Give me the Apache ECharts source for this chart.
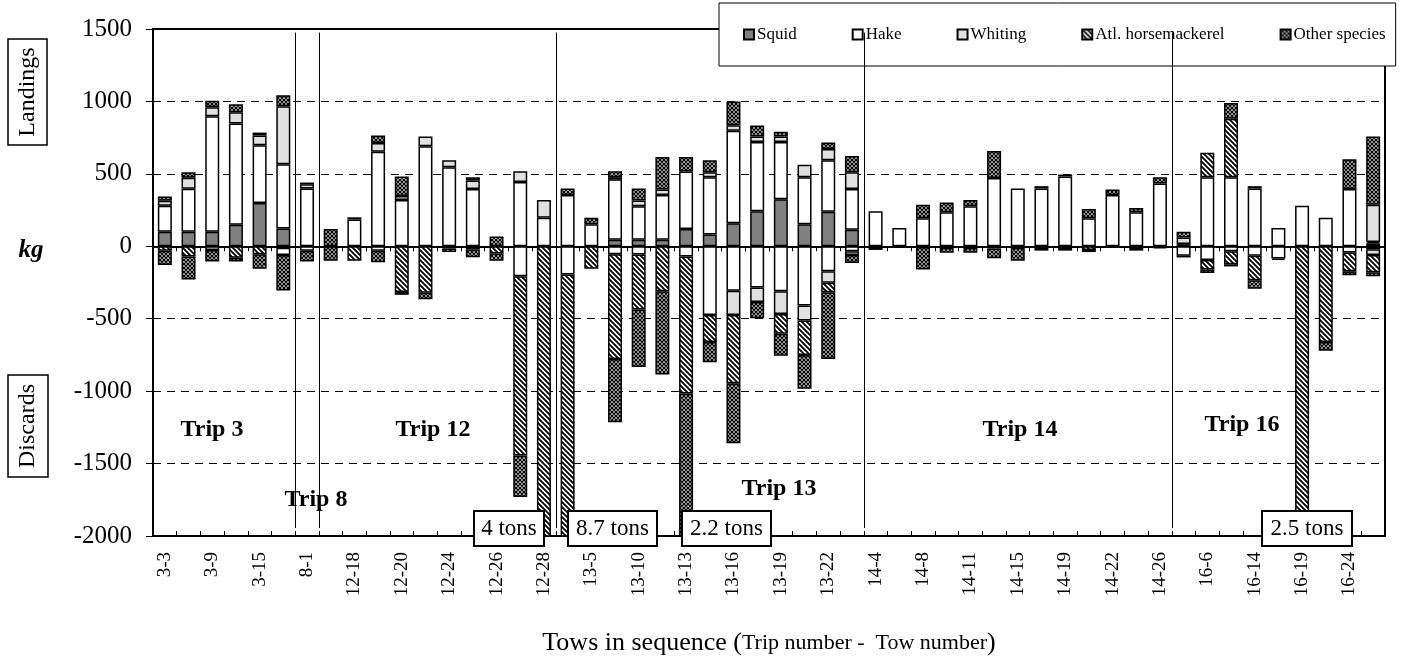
<!DOCTYPE html>
<html>
<head>
<meta charset="utf-8">
<script src="https://cdn.jsdelivr.net/npm/echarts@6/dist/echarts.min.js"></script>
<style>
  html, body { margin: 0; padding: 0; background: #fff; }
  #chart { width: 1427px; height: 661px; }
</style>
</head>
<body>
<div id="chart"></div>
<script>
// Tows in sequence: "trip-tow"
const tows = [
  '3-3','3-6','3-9','3-12','3-15','3-18',
  '8-1',
  '12-17','12-18','12-19','12-20','12-22','12-24','12-25','12-26','12-27','12-28',
  '13-4','13-5','13-8','13-10','13-12','13-13','13-15','13-16','13-18','13-19','13-21','13-22','13-23',
  '14-4','14-6','14-8','14-10','14-11','14-13','14-15','14-17','14-19','14-20','14-22','14-24','14-26',
  '16-5','16-6','16-10','16-14','16-17','16-19','16-21','16-24','16-26'
];

// Landings per tow (kg)
const landSquid = [100,100,100,148,298,123, 0, 0,0,0,0,0,0,0,0,0,0,
  0,0,45,45,45,119,81,159,242,325,152,238,114,
  0,0,0,0,0,0,0,0,0,0,0,0,0,
  0,0,0,0,0,0,0,0,20];
const landHake = [180,297,797,699,399,444, 399, 0,185,652,320,690,545,395,0,444,197,
  354,152,417,231,309,397,396,639,478,395,325,356,281,
  242,126,193,235,276,471,399,399,482,193,354,235,433,
  15,477,477,399,126,280,197,395,10];
const landWhiting = [35,76,63,79,68,399, 29, 0,0,61,27,68,49,60,0,74,123,
  0,0,15,40,38,0,34,38,38,38,86,78,116,
  0,0,0,0,0,0,0,0,0,0,0,0,0,
  45,0,0,0,0,0,0,0,257];
const landHorse = [0,0,0,0,0,0, 0, 0,0,0,0,0,0,0,0,0,0,
  0,0,0,0,0,0,0,0,0,0,0,0,0,
  0,0,0,0,0,0,0,0,0,0,0,0,0,
  0,169,404,0,0,0,0,0,0];
const landOther = [28,38,44,54,20,77, 12, 119,15,52,135,0,0,22,67,0,0,
  45,45,41,83,224,100,83,164,76,33,0,45,112,
  0,0,94,68,44,186,0,16,13,65,38,30,44,
  40,0,108,16,0,0,0,206,471];

// Discards per tow (kg, negative)
const discSquid = [0,0,0,0,0,-10, 0, 0,0,0,0,0,0,0,0,0,0,
  0,0,0,0,0,0,0,0,0,0,0,0,0,
  0,0,0,0,0,0,0,0,0,0,0,0,0,
  0,0,0,0,0,0,0,0,0];
const discHake = [0,0,-25,0,0,-50, -30, 0,0,-30,0,0,-15,-20,0,-206,0,
  -195,0,-55,-56,0,-70,-475,-307,-285,-311,-408,-172,-35,
  -10,-10,-5,-10,-10,-15,-10,-10,-10,0,-5,-10,-5,
  -65,-94,-34,-65,-85,0,0,-43,-20];
const discWhiting = [0,0,0,0,0,0, 0, 0,0,0,0,0,0,0,0,0,0,
  0,0,0,0,0,0,0,-168,-100,-157,-105,-79,-25,
  0,0,0,0,0,0,0,0,0,0,0,0,0,
  0,0,0,0,0,0,0,0,-40];
const discHorse = [-30,-70,0,-80,-55,0, 0, 0,-100,0,-315,-320,-25,0,-50,-1239,-4000,
  -8505,-155,-723,-381,-311,-947,-186,-470,0,-135,-238,-67,0,
  0,0,0,0,0,0,0,0,0,-25,0,0,0,
  0,-67,-90,-170,0,-2500,-661,-129,-120];
const discOther = [-100,-160,-80,-25,-100,-245, -75, -100,0,-80,-20,-45,0,-55,-50,-285,0,
  0,0,-437,-397,-574,-1183,-139,-415,-112,-152,-233,-460,-55,
  -15,0,-156,-35,-35,-68,-90,-20,-20,-15,0,-20,-10,
  -12,-23,-15,-58,-10,0,-61,-28,-26];

// y-axis ticks (kg)
const yTicks = { min: -2000, max: 1500, step: 500 };

// Very large discard bars and their totals
const bigDiscards = [
  { tow: '12-28', text: '4 tons' },
  { tow: '13-4',  text: '8.7 tons' },
  { tow: '13-13', text: '2.2 tons' },
  { tow: '16-19', text: '2.5 tons' }
];

const trips = ['Trip 3', 'Trip 8', 'Trip 12', 'Trip 13', 'Trip 14', 'Trip 16'];

const SERIF = "'Liberation Serif', 'Times New Roman', serif";

// --- fill patterns -------------------------------------------------------
function hatchPattern() {
  const n = 5;
  const c = document.createElement('canvas');
  c.width = n; c.height = n;
  const g = c.getContext('2d');
  g.fillStyle = '#fff'; g.fillRect(0, 0, n, n);
  g.strokeStyle = '#000'; g.lineWidth = 1.8;
  g.beginPath();
  g.moveTo(-1, -1); g.lineTo(n + 1, n + 1);
  g.moveTo(n - 1, -1); g.lineTo(n + 1, 1);
  g.moveTo(-1, n - 1); g.lineTo(1, n + 1);
  g.stroke();
  return { image: c, repeat: 'repeat' };
}
function crossPattern() {
  const c = document.createElement('canvas');
  c.width = 4; c.height = 4;
  const g = c.getContext('2d');
  g.fillStyle = '#fff'; g.fillRect(0, 0, 4, 4);
  g.strokeStyle = '#000'; g.lineWidth = 1.35;
  g.beginPath();
  g.moveTo(-1, -1); g.lineTo(5, 5);
  g.moveTo(3, -1); g.lineTo(5, 1);
  g.moveTo(-1, 3); g.lineTo(1, 5);
  g.moveTo(-1, 5); g.lineTo(5, -1);
  g.moveTo(-1, 1); g.lineTo(1, -1);
  g.moveTo(3, 5); g.lineTo(5, 3);
  g.stroke();
  return { image: c, repeat: 'repeat' };
}

const species = [
  { name: 'Squid',               fill: '#808080',      land: landSquid,   disc: discSquid },
  { name: 'Hake',                fill: '#ffffff',      land: landHake,    disc: discHake },
  { name: 'Whiting',             fill: '#e0e0e0',      land: landWhiting, disc: discWhiting },
  { name: 'Atl. horsemackerel',  fill: hatchPattern(), land: landHorse,   disc: discHorse },
  { name: 'Other species',       fill: crossPattern(), land: landOther,   disc: discOther }
];

function barSeries(sp, values) {
  return {
    name: sp.name,
    type: 'bar',
    stack: 'kg',
    stackStrategy: 'samesign',
    xAxisIndex: 0,
    yAxisIndex: 0,
    barWidth: 14,
    data: values.map(v => (v === 0 ? '-' : v)),
    itemStyle: { color: sp.fill, borderColor: '#000', borderWidth: 1.5 },
    emphasis: { disabled: true },
    silent: true
  };
}

const series = [];
species.forEach(sp => series.push(barSeries(sp, sp.land)));
species.forEach(sp => series.push(barSeries(sp, sp.disc)));

// vertical separators between trips, at the category boundaries
const tripOf = t => t.split('-')[0];
const breaks = [];
for (let i = 1; i < tows.length; i++) {
  if (tripOf(tows[i]) !== tripOf(tows[i - 1])) breaks.push(i);
}
series.push({
  type: 'line',
  xAxisIndex: 3,
  yAxisIndex: 0,
  data: [],
  silent: true,
  markLine: {
    silent: true,
    symbol: 'none',
    label: { show: false },
    lineStyle: { color: '#000', width: 1, type: 'solid' },
    data: breaks.map(b => [{ coord: [b, 1475] }, { coord: [b, -1945] }])
  }
});

const catAxisBase = {
  type: 'category',
  data: tows,
  boundaryGap: true,
  position: 'bottom',
  splitLine: { show: false }
};

const chart = echarts.init(document.getElementById('chart'), null, { renderer: 'canvas' });

const option = {
  animation: false,
  backgroundColor: '#fff',
  textStyle: { fontFamily: SERIF, color: '#000' },
  grid: {
    left: 153, right: 42, top: 29, bottom: 114,
    show: true, borderColor: '#000', borderWidth: 2, backgroundColor: 'transparent'
  },
  legend: {
    data: species.map(s => ({ name: s.name, icon: 'rect' })),
    selectedMode: false,
    left: 719, top: 3,
    orient: 'horizontal',
    padding: [23, 10, 23, 24],
    itemGap: 55,
    itemWidth: 10, itemHeight: 10,
    backgroundColor: '#fff',
    borderColor: '#000', borderWidth: 1,
    textStyle: { fontFamily: SERIF, fontSize: 17, color: '#000', padding: [0, 0, 0, -2] }
  },
  xAxis: [
    Object.assign({}, catAxisBase, {
      axisLine: { show: false, onZero: false },
      axisTick: { show: false },
      axisLabel: {
        interval: 1, rotate: 90, margin: 16,
        fontFamily: SERIF, fontSize: 19, color: '#000'
      },
      name: '{big|Tows in sequence (}{small|Trip number -  Tow number}{big|)}',
      nameLocation: 'middle',
      nameGap: 94,
      nameTextStyle: {
        rich: {
          big: { fontFamily: SERIF, fontSize: 26, color: '#000' },
          small: { fontFamily: SERIF, fontSize: 22, color: '#000' }
        }
      }
    }),
    Object.assign({}, catAxisBase, {
      axisLine: { show: true, onZero: true, lineStyle: { color: '#000', width: 2 } },
      axisTick: { show: true, interval: 0, inside: false, length: 5, lineStyle: { color: '#000', width: 1 } },
      axisLabel: { show: false }
    }),
    Object.assign({}, catAxisBase, {
      axisLine: { show: true, onZero: true, lineStyle: { color: '#000', width: 2 } },
      axisTick: { show: true, interval: 0, inside: true, length: 5, lineStyle: { color: '#000', width: 1 } },
      axisLabel: { show: false }
    }),
    { type: 'value', min: 0, max: tows.length, show: false, position: 'top' }
  ],
  yAxis: {
    type: 'value',
    min: yTicks.min, max: yTicks.max, interval: yTicks.step,
    axisLine: { show: true, lineStyle: { color: '#000', width: 2 } },
    axisTick: { show: true, length: 7, lineStyle: { color: '#000', width: 1 } },
    axisLabel: { fontFamily: SERIF, fontSize: 25, color: '#000', margin: 21,
      formatter: v => String(v) },
    splitLine: { show: true, lineStyle: { color: '#000', width: 1, type: [8, 6] } }
  },
  series: series,
  graphic: []
};

chart.setOption(option);

// Annotations: side captions, trip names and tonnage boxes
const g = [];
function boxedVertical(text, cx, cy, w, h) {
  g.push({ type: 'rect', shape: { x: cx - w / 2, y: cy - h / 2, width: w, height: h },
    style: { fill: '#fff', stroke: '#000', lineWidth: 1.5 }, z: 10, silent: true });
  g.push({ type: 'text', x: cx, y: cy, rotation: Math.PI / 2, z: 11, silent: true,
    style: { text: text, font: '24px ' + SERIF, fill: '#000', textAlign: 'center', textVerticalAlign: 'middle' } });
}
boxedVertical('Landings', 27.5, 92, 39, 106);
boxedVertical('Discards', 28, 426, 40, 102);
g.push({ type: 'text', x: 31, y: 251, z: 11, silent: true,
  style: { text: 'kg', font: 'italic bold 25px ' + SERIF, fill: '#000', textAlign: 'center', textVerticalAlign: 'middle' } });

const tripPos = { 'Trip 3': [212, 430], 'Trip 8': [316, 500], 'Trip 12': [433, 430],
  'Trip 13': [779, 489], 'Trip 14': [1020, 430], 'Trip 16': [1242, 425] };
trips.forEach(t => {
  g.push({ type: 'text', x: tripPos[t][0], y: tripPos[t][1], z: 11, silent: true,
    style: { text: t, font: 'bold 24px ' + SERIF, fill: '#000', textAlign: 'center', textVerticalAlign: 'middle' } });
});

const boxPos = { '12-28': [474, 544], '13-4': [568, 657], '13-13': [682, 771], '16-19': [1262, 1352] };
bigDiscards.forEach(b => {
  const [x0, x1] = boxPos[b.tow];
  g.push({ type: 'rect', shape: { x: x0, y: 511, width: x1 - x0, height: 35 },
    style: { fill: '#fff', stroke: '#000', lineWidth: 2 }, z: 10, silent: true });
  g.push({ type: 'text', x: (x0 + x1) / 2, y: 529, z: 11, silent: true,
    style: { text: b.text, font: '23px ' + SERIF, fill: '#000', textAlign: 'center', textVerticalAlign: 'middle' } });
});

chart.setOption({ graphic: g });
</script>
</body>
</html>
